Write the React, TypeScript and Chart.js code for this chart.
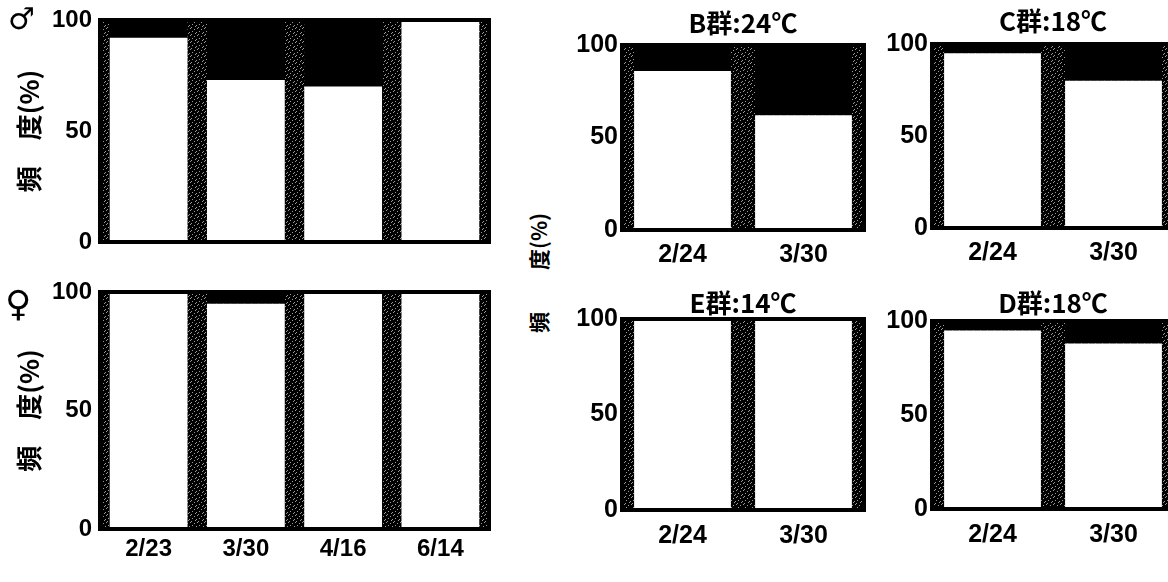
import React, { useEffect, useRef } from 'react';
import { Chart, registerables } from 'chart.js';

Chart.register(...registerables);

// ---- data ----
const leftCategories = ['2/23', '3/30', '4/16', '6/14'];
const maleValues = [92, 73, 70, 100];
const femaleValues = [100, 95, 100, 100];

const rightCategories = ['2/24', '3/30'];
const groupBValues = [86, 62];
const groupCValues = [95, 80];
const groupEValues = [100, 100];
const groupDValues = [95, 88];

const yTickStep = 50;
const yMax = 100;

const groupBTitle = 'B群:24℃';
const groupCTitle = 'C群:18℃';
const groupETitle = 'E群:14℃';
const groupDTitle = 'D群:18℃';
const yAxisTitleLeft = '頻　度(%)';
const yAxisTitleRight = '頻　　度(%)';
const maleSymbol = '♂';
const femaleSymbol = '♀';

const NUM_FONT = "'Liberation Sans', Arial, sans-serif";
const CJK_FONT = "'Noto Sans CJK JP', 'Noto Sans', sans-serif";

let speckleCache: CanvasPattern | string | null = null;
function getSpeckle(): CanvasPattern | string {
  if (speckleCache) return speckleCache;
  const c = document.createElement('canvas');
  c.width = 7;
  c.height = 7;
  const g = c.getContext('2d');
  if (!g) return '#222';
  g.fillStyle = '#000';
  g.fillRect(0, 0, 7, 7);
  g.fillStyle = '#9a9a9a';
  [[1, 0], [5, 1], [3, 3], [0, 4], [6, 5], [2, 6]].forEach(([x, y]) => g.fillRect(x, y, 1, 1));
  speckleCache = g.createPattern(c, 'repeat') || '#222';
  return speckleCache;
}

const framePlugin = {
  id: 'frame',
  beforeDatasetsDraw(chart: any) {
    const { ctx, chartArea: a } = chart;
    ctx.save();
    ctx.fillStyle = getSpeckle();
    ctx.fillRect(a.left, a.top, a.right - a.left, a.bottom - a.top);
    ctx.restore();
  },
  afterDatasetsDraw(chart: any) {
    const { ctx, chartArea: a } = chart;
    ctx.save();
    ctx.strokeStyle = '#000';
    ctx.lineWidth = 4;
    ctx.strokeRect(a.left, a.top, a.right - a.left, a.bottom - a.top);
    ctx.restore();
  },
};

type PanelProps = {
  left: number;
  top: number;
  width: number;
  height: number;
  categories: string[];
  values: number[];
  yAxisWidth: number;
  xAxisHeight: number | null;
  pad: { top: number; bottom: number; left: number; right: number };
  title?: string;
  titlePadTop?: number;
  titlePadBottom?: number;
  yTitle?: string;
  yTitlePad?: number;
  tickSize: number;
  xTickSize: number;
  xTickPad: number;
  yTickPad: number;
};

function Panel(p: PanelProps) {
  const ref = useRef<HTMLCanvasElement | null>(null);
  useEffect(() => {
    if (!ref.current) return;
    const yTickFont = { family: NUM_FONT, size: p.tickSize, weight: 'bold' as const, lineHeight: 1 };
    const xTickFont = { family: NUM_FONT, size: p.xTickSize, weight: 'bold' as const, lineHeight: 1 };
    const chart = new Chart(ref.current, {
      type: 'bar',
      data: {
        labels: p.categories,
        datasets: [
          {
            data: p.values,
            backgroundColor: '#ffffff',
            borderWidth: 0,
            stack: 's',
            barPercentage: 0.8,
            categoryPercentage: 1,
          },
          {
            data: p.values.map((v) => yMax - v),
            backgroundColor: '#000000',
            borderWidth: 0,
            stack: 's',
            barPercentage: 0.8,
            categoryPercentage: 1,
          },
        ],
      },
      options: {
        responsive: false,
        animation: false,
        devicePixelRatio: 1,
        layout: { padding: p.pad },
        plugins: {
          legend: { display: false },
          tooltip: { enabled: false },
          title: p.title
            ? {
                display: true,
                text: p.title,
                fullSize: false,
                color: '#000',
                font: { family: CJK_FONT, size: 26, weight: 'bold', lineHeight: 1 },
                padding: { top: p.titlePadTop ?? 0, bottom: p.titlePadBottom ?? 0 },
              }
            : { display: false },
        },
        scales: {
          x: {
            stacked: true,
            display: p.xAxisHeight !== null,
            grid: { display: false, drawTicks: false },
            border: { display: false },
            ticks: { font: xTickFont, color: '#000', padding: p.xTickPad, maxRotation: 0, autoSkip: false },
            afterFit: (s: any) => {
              if (p.xAxisHeight !== null) s.height = p.xAxisHeight;
            },
          },
          y: {
            stacked: true,
            min: 0,
            max: yMax,
            grid: { display: false, drawTicks: false },
            border: { display: false },
            ticks: { stepSize: yTickStep, font: yTickFont, color: '#000', padding: p.yTickPad },
            title: p.yTitle
              ? {
                  display: true,
                  text: p.yTitle,
                  color: '#000',
                  font: { family: CJK_FONT, size: 26, weight: 'bold', lineHeight: 1 },
                  padding: { top: p.yTitlePad ?? 0, bottom: 0 },
                }
              : { display: false },
            afterFit: (s: any) => {
              s.width = p.yAxisWidth;
            },
          },
        },
      } as any,
      plugins: [framePlugin],
    });
    return () => chart.destroy();
  }, []);
  return (
    <canvas
      ref={ref}
      width={p.width}
      height={p.height}
      style={{ position: 'absolute', left: p.left, top: p.top, width: p.width, height: p.height }}
    />
  );
}

export default function App() {
  return (
    <div
      style={{
        position: 'fixed',
        left: 0,
        top: 0,
        width: 1168,
        height: 582,
        overflow: 'hidden',
        background: '#fff',
      }}
    >
      {/* male */}
      <Panel
        left={0}
        top={0}
        width={500}
        height={262}
        categories={leftCategories}
        values={maleValues}
        yAxisWidth={100}
        xAxisHeight={null}
        pad={{ top: 16, bottom: 15, left: 0, right: 11 }}
        yTitle={yAxisTitleLeft}
        yTitlePad={16}
        tickSize={24}
        xTickSize={24}
        xTickPad={8}
        yTickPad={8}
      />
      {/* female */}
      <Panel
        left={0}
        top={270}
        width={500}
        height={312}
        categories={leftCategories}
        values={femaleValues}
        yAxisWidth={100}
        xAxisHeight={40}
        pad={{ top: 22, bottom: 13, left: 0, right: 11 }}
        yTitle={yAxisTitleLeft}
        yTitlePad={16}
        tickSize={24}
        xTickSize={24}
        xTickPad={8}
        yTickPad={8}
      />
      {/* B */}
      <Panel
        left={560}
        top={0}
        width={310}
        height={280}
        categories={rightCategories}
        values={groupBValues}
        yAxisWidth={62}
        xAxisHeight={40}
        pad={{ top: 0, bottom: 10, left: 0, right: 6 }}
        title={groupBTitle}
        titlePadTop={10}
        titlePadBottom={9}
        tickSize={25}
        xTickSize={25}
        xTickPad={13}
        yTickPad={4}
      />
      {/* C */}
      <Panel
        left={870}
        top={0}
        width={310}
        height={280}
        categories={rightCategories}
        values={groupCValues}
        yAxisWidth={62}
        xAxisHeight={40}
        pad={{ top: 0, bottom: 12, left: 0, right: 6 }}
        title={groupCTitle}
        titlePadTop={8}
        titlePadBottom={10}
        tickSize={25}
        xTickSize={25}
        xTickPad={13}
        yTickPad={4}
      />
      {/* E */}
      <Panel
        left={560}
        top={280}
        width={310}
        height={302}
        categories={rightCategories}
        values={groupEValues}
        yAxisWidth={62}
        xAxisHeight={40}
        pad={{ top: 0, bottom: 32, left: 0, right: 6 }}
        title={groupETitle}
        titlePadTop={10}
        titlePadBottom={3}
        tickSize={25}
        xTickSize={25}
        xTickPad={14}
        yTickPad={4}
      />
      {/* D */}
      <Panel
        left={870}
        top={280}
        width={310}
        height={302}
        categories={rightCategories}
        values={groupDValues}
        yAxisWidth={62}
        xAxisHeight={40}
        pad={{ top: 0, bottom: 33, left: 0, right: 6 }}
        title={groupDTitle}
        titlePadTop={10}
        titlePadBottom={5}
        tickSize={25}
        xTickSize={25}
        xTickPad={14}
        yTickPad={4}
      />
      <div
        style={{
          position: 'absolute',
          left: 8,
          top: 2,
          fontFamily: "'DejaVu Sans', sans-serif",
          fontWeight: 'bold',
          fontSize: 30,
          lineHeight: '34px',
          color: '#000',
        }}
      >
        {maleSymbol}
      </div>
      <div
        style={{
          position: 'absolute',
          left: 5,
          top: 284,
          fontFamily: "'DejaVu Sans', sans-serif",
          fontWeight: 'bold',
          fontSize: 36,
          lineHeight: '40px',
          color: '#000',
        }}
      >
        {femaleSymbol}
      </div>
      <div
        style={{
          position: 'absolute',
          left: 538,
          top: 273,
          transform: 'translate(-50%, -50%) rotate(-90deg)',
          fontFamily: CJK_FONT,
          fontWeight: 'bold',
          fontSize: 21,
          lineHeight: '24px',
          whiteSpace: 'nowrap',
          color: '#000',
        }}
      >
        {yAxisTitleRight}
      </div>
    </div>
  );
}
